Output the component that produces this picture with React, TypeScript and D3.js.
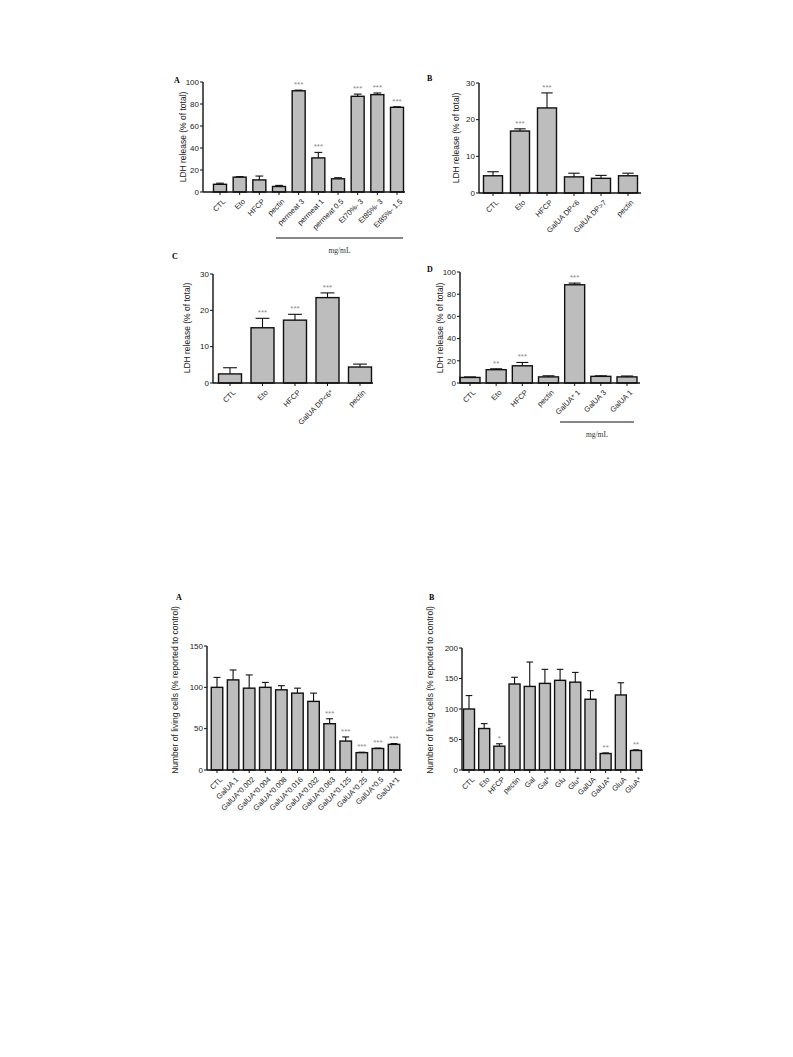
import React from "react";
import * as d3 from "d3";

// ---- data ----
const catsA = ["CTL", "Eto", "HFCP", "pectin", "permeat 3", "permeat 1", "permeat 0.5", "Et70%- 3", "Et85%- 3", "Et85%- 1.5"];
const valsA = [7, 13.5, 11, 5, 92, 31, 12, 87, 88.5, 77];
const errsA = [1, 0.5, 3.5, 1, 0.6, 5, 1, 2, 1.5, 0.5];
const starsA = ["", "", "", "", "***", "***", "", "***", "***", "***"];

const catsB = ["CTL", "Eto", "HFCP", "GalUA DP<6", "GalUA DP>7", "pectin"];
const valsB = [4.7, 16.9, 23.2, 4.4, 4, 4.7];
const errsB = [1.1, 0.6, 4.1, 1, 0.8, 0.7];
const starsB = ["", "***", "***", "", "", ""];

const catsC = ["CTL", "Eto", "HFCP", "GalUA DP<6*", "pectin"];
const valsC = [2.5, 15.2, 17.3, 23.5, 4.4];
const errsC = [1.7, 2.6, 1.6, 1.3, 0.8];
const starsC = ["", "***", "***", "***", ""];

const catsD = ["CTL", "Eto", "HFCP", "pectin", "GalUA* 1", "GalUA 3", "GalUA 1"];
const valsD = [5, 12, 15.5, 5.5, 88.5, 6, 5.5];
const errsD = [0.5, 0.8, 3, 1, 1.5, 0.5, 0.8];
const starsD = ["", "**", "***", "", "***", "", ""];

const catsE = ["CTL", "GalUA 1", "GalUA*0.002", "GalUA*0.004", "GalUA*0.008", "GalUA*0.016", "GalUA*0.032", "GalUA*0.063", "GalUA*0.125", "GalUA*0.25", "GalUA*0.5", "GalUA*1"];
const valsE = [100, 109, 99, 100, 97, 93, 83, 56, 35, 21, 26, 31];
const errsE = [12, 12, 16, 6, 5, 6, 10, 6, 5, 0.5, 0.5, 1];
const starsE = ["", "", "", "", "", "", "", "***", "***", "***", "***", "***"];

const catsF = ["CTL", "Eto", "HFCP", "pectin", "Gal", "Gal*", "Glu", "Glu*", "GalUA", "GalUA*", "GluA", "GluA*"];
const valsF = [100, 68, 39, 141, 137, 142, 147, 144, 116, 27, 123, 32];
const errsF = [22, 8, 4, 11, 40, 23, 18, 16, 14, 1, 20, 1];
const starsF = ["", "", "*", "", "", "", "", "", "", "**", "", "**"];

const ldhTitle = "LDH release (% of total)";
const cellsTitle = "Number of living cells (% reported to control)";

type PanelProps = {
  letter: string; lx: number; ly: number;
  cats: string[]; vals: number[]; errs: number[]; stars: string[];
  yMax: number; yStep: number;
  axisX: number; axisEnd: number; yTop: number; yBottom: number;
  c0: number; c1: number; barW: number;
  title: string; titleX: number; titleY: number;
  bracket?: { x0: number; x1: number; y: number };
};

const sans = "Liberation Sans, Arial, sans-serif";
const serif = "Liberation Serif, Times New Roman, serif";

function Panel(p: PanelProps) {
  const y = d3.scaleLinear().domain([0, p.yMax]).range([p.yBottom, p.yTop]);
  const x = d3.scalePoint<string>().domain(p.cats).range([p.c0, p.c1]);
  const ticks = d3.range(0, p.yMax + 0.001, p.yStep);
  const grey = "#8a8a8a";
  return (
    <g>
      <text x={p.lx} y={p.ly} fontFamily={serif} fontWeight="bold" fontSize={8}>{p.letter}</text>
      <text transform={`translate(${p.titleX},${p.titleY}) rotate(-90)`} textAnchor="middle" fontFamily={sans} fontSize={8.5} fill="#222">{p.title}</text>
      {p.cats.map((c, i) => {
        const cx = x(c)!;
        const top = y(p.vals[i]);
        const eTop = y(p.vals[i] + p.errs[i]);
        return (
          <g key={c}>
            <rect x={cx - p.barW / 2} y={top} width={p.barW} height={p.yBottom - top} fill="#bdbdbd" stroke="#111" strokeWidth={1.4} />
            <line x1={cx} x2={cx} y1={top} y2={eTop} stroke="#111" strokeWidth={1.1} />
            <line x1={cx - p.barW * 0.3} x2={cx + p.barW * 0.3} y1={eTop} y2={eTop} stroke="#111" strokeWidth={1.1} />
            {p.stars[i] && (
              <text x={cx} y={eTop - 3} textAnchor="middle" fontFamily={sans} fontSize={8} fill={grey}>{p.stars[i]}</text>
            )}
            <line x1={cx} x2={cx} y1={p.yBottom} y2={p.yBottom + 3} stroke="#111" strokeWidth={1} />
            <text transform={`translate(${cx + 2},${p.yBottom + 6}) rotate(-45)`} textAnchor="end" dominantBaseline="hanging" fontFamily={sans} fontSize={7.5} fill="#222">{c}</text>
          </g>
        );
      })}
      <line x1={p.axisX} x2={p.axisX} y1={p.yTop} y2={p.yBottom} stroke="#111" strokeWidth={1.4} />
      <line x1={p.axisX} x2={p.axisEnd} y1={p.yBottom} y2={p.yBottom} stroke="#111" strokeWidth={1.4} />
      {ticks.map(t => (
        <g key={t}>
          <line x1={p.axisX - 3} x2={p.axisX} y1={y(t)} y2={y(t)} stroke="#111" strokeWidth={1} />
          <text x={p.axisX - 4} y={y(t)} dy="0.35em" textAnchor="end" fontFamily={sans} fontSize={8} fill="#222">{t}</text>
        </g>
      ))}
      {p.bracket && (
        <g>
          <line x1={p.bracket.x0} x2={p.bracket.x1} y1={p.bracket.y} y2={p.bracket.y} stroke="#111" strokeWidth={1.2} />
          <text x={(p.bracket.x0 + p.bracket.x1) / 2} y={p.bracket.y + 15} textAnchor="middle" fontFamily={serif} fontSize={7.5} fill="#333">mg/mL</text>
        </g>
      )}
    </g>
  );
}

export default function App() {
  return (
    <svg width={793} height={1057} style={{ position: "absolute", left: 0, top: 0, background: "#fff" }}>
      <rect width={793} height={1057} fill="#fff" />
      <Panel letter="A" lx={174} ly={83} cats={catsA} vals={valsA} errs={errsA} stars={starsA}
        yMax={100} yStep={20} axisX={203} axisEnd={405} yTop={82} yBottom={192}
        c0={220} c1={397} barW={13} title={ldhTitle} titleX={186} titleY={137}
        bracket={{ x0: 276, x1: 403, y: 238 }} />
      <Panel letter="B" lx={427} ly={81} cats={catsB} vals={valsB} errs={errsB} stars={starsB}
        yMax={30} yStep={10} axisX={479} axisEnd={641} yTop={83} yBottom={193}
        c0={493} c1={628} barW={19} title={ldhTitle} titleX={459} titleY={138} />
      <Panel letter="C" lx={172} ly={259} cats={catsC} vals={valsC} errs={errsC} stars={starsC}
        yMax={30} yStep={10} axisX={213} axisEnd={373} yTop={274} yBottom={383}
        c0={230} c1={360} barW={23} title={ldhTitle} titleX={190} titleY={328} />
      <Panel letter="D" lx={427} ly={272} cats={catsD} vals={valsD} errs={errsD} stars={starsD}
        yMax={100} yStep={20} axisX={460} axisEnd={640} yTop={272} yBottom={383}
        c0={470} c1={627} barW={20} title={ldhTitle} titleX={443} titleY={328}
        bracket={{ x0: 560, x1: 634, y: 422 }} />
      <Panel letter="A" lx={176} ly={600} cats={catsE} vals={valsE} errs={errsE} stars={starsE}
        yMax={150} yStep={50} axisX={207} axisEnd={402} yTop={646} yBottom={770}
        c0={217} c1={394} barW={11.5} title={cellsTitle} titleX={178} titleY={690} />
      <Panel letter="B" lx={429} ly={600} cats={catsF} vals={valsF} errs={errsF} stars={starsF}
        yMax={200} yStep={50} axisX={462} axisEnd={643} yTop={648} yBottom={770}
        c0={469} c1={636} barW={11} title={cellsTitle} titleX={433} titleY={690} />
    </svg>
  );
}
